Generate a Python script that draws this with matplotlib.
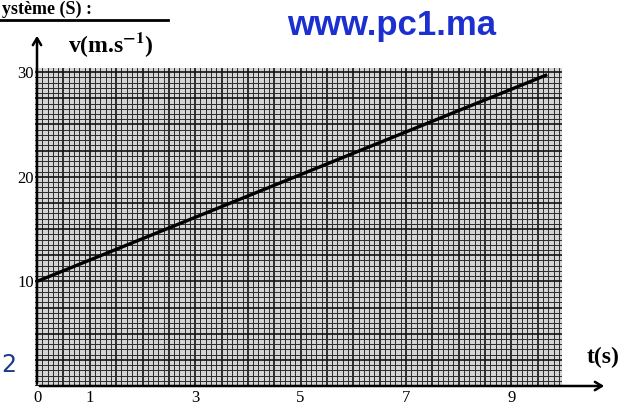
import numpy as np
import matplotlib
matplotlib.use("Agg")
import matplotlib.pyplot as plt

# data
t_line = [0.0, 9.65]
v_line = [10.0, 29.7]
x_ticks = [0, 1, 3, 5, 7, 9]
y_ticks = [10, 20, 30]

fig = plt.figure(figsize=(6.3, 4.07), dpi=100)
ax = fig.add_axes([35/630, 21/407, (562-35)/630, (386-68)/407])
ax.set_xlim(-0.04, 9.96)
ax.set_ylim(0, 30.4)
ax.set_facecolor('#d4d4d4')

# graph paper grid
for x in np.arange(0, 10.0, 0.1):
    major = abs(x*2 - round(x*2)) < 1e-6
    ax.axvline(x, color='#111111' if major else '#2a2a2a', lw=1.2 if major else 0.7, zorder=1)
for y in np.arange(0, 30.5, 0.5):
    major = abs(y/2.5 - round(y/2.5)) < 1e-6
    ax.axhline(y, color='#111111' if major else '#2a2a2a', lw=1.2 if major else 0.7, zorder=1)

ax.plot(t_line, v_line, color='black', lw=2.4, zorder=3)

ax.set_xticks(x_ticks)
ax.set_yticks(y_ticks)
ax.set_xticklabels([str(v) for v in x_ticks], family='Liberation Serif', fontsize=12)
ax.set_yticklabels([str(v) for v in y_ticks], family='Liberation Serif', fontsize=12)
ax.tick_params(length=0, pad=1)
ax.tick_params(axis='x', pad=3)
for s in ax.spines.values():
    s.set_visible(False)

# axes arrows
fig.patches.append(matplotlib.patches.FancyArrowPatch((37/630, 1-386/407), (37/630, 1-33/407),
    transform=fig.transFigure, arrowstyle='->,head_width=3,head_length=5', lw=1.8, color='black', mutation_scale=1))
fig.patches.append(matplotlib.patches.FancyArrowPatch((37/630, 1-386/407), (607/630, 1-386/407),
    transform=fig.transFigure, arrowstyle='->,head_width=3,head_length=5', lw=1.8, color='black', mutation_scale=1))

# labels
fig.text(68/630, 1-45/407, r'v(m.s$^{\mathbf{-1}}$)', family='Liberation Serif', fontweight='bold', fontsize=17,
         va='center', ha='left', math_fontfamily='stix')
fig.text(603/630, 1-357/407, 't(s)', family='Liberation Serif', fontweight='bold', fontsize=17,
         va='center', ha='center')
fig.text(392/630, 1-25/407, 'www.pc1.ma', family='Liberation Sans', fontweight='bold', fontsize=25,
         color='#1c2fd0', va='center', ha='center')
fig.text(2/630, 1-1/407, 'ystème (S) :', family='Liberation Serif', fontweight='bold', fontsize=13,
         va='top', ha='left')
fig.add_artist(matplotlib.lines.Line2D([0, 168/630], [1-20/407, 1-20/407], color='black', lw=2, transform=fig.transFigure))
fig.text(1/630, 1-365/407, '2', family='DejaVu Sans', fontsize=17, color='#1a3a8a', va='center', ha='left')

fig.savefig('out.png', dpi=100)
